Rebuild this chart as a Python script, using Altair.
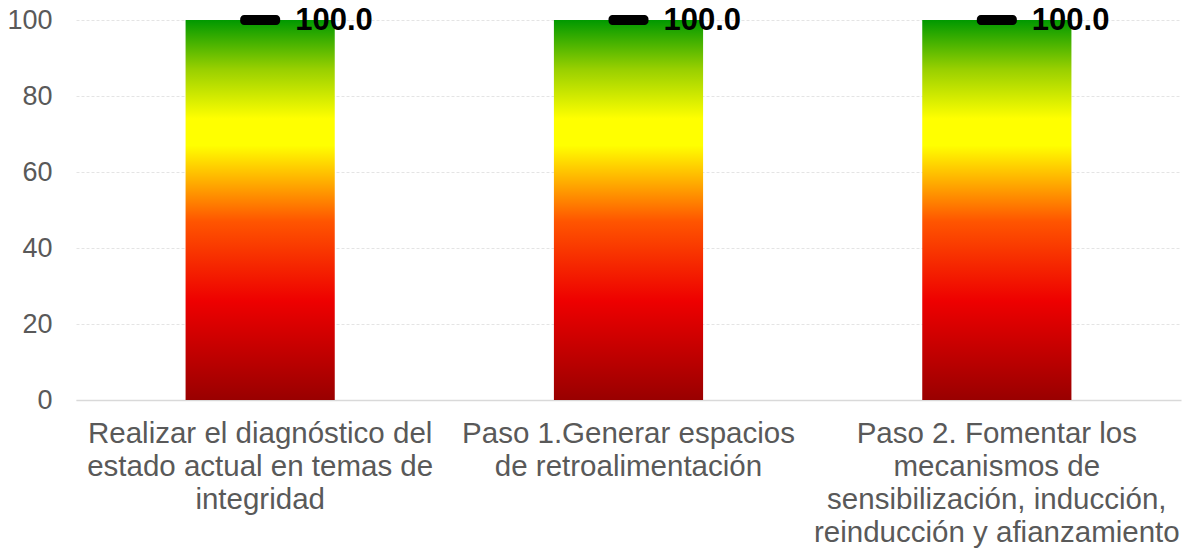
import altair as alt
import pandas as pd

categories = [
    "Realizar el diagnóstico del estado actual en temas de integridad",
    "Paso 1.Generar espacios de retroalimentación",
    "Paso 2. Fomentar los mecanismos de sensibilización, inducción, reinducción y afianzamiento",
]
label_lines = [
    ["Realizar el diagnóstico del", "estado actual en temas de", "integridad"],
    ["Paso 1.Generar espacios", "de retroalimentación"],
    ["Paso 2. Fomentar los", "mecanismos de", "sensibilización, inducción,", "reinducción y afianzamiento"],
]
values = [100.0, 100.0, 100.0]
y_ticks = [0, 20, 40, 60, 80, 100]

df = pd.DataFrame({
    "categoria": categories,
    "etiqueta": ["|".join(l) for l in label_lines],
    "valor": values,
})

FONT = "Liberation Sans"
GRAY = "#595959"

gradient = alt.Gradient(
    gradient="linear",
    stops=[
        alt.GradientStop(color="#990000", offset=0.0),
        alt.GradientStop(color="#EE0000", offset=0.26),
        alt.GradientStop(color="#FF5500", offset=0.47),
        alt.GradientStop(color="#FF9900", offset=0.55),
        alt.GradientStop(color="#FFFF00", offset=0.67),
        alt.GradientStop(color="#FFFF00", offset=0.74),
        alt.GradientStop(color="#99D000", offset=0.87),
        alt.GradientStop(color="#009900", offset=1.0),
    ],
    x1=0, x2=0, y1=1, y2=0,
)

x_enc = alt.X(
    "etiqueta:N", sort=None, title=None,
    scale=alt.Scale(paddingInner=0.595, paddingOuter=0.2975),
    axis=alt.Axis(
        labelAngle=0, labelExpr="split(datum.label, '|')",
        labelFont=FONT, labelFontSize=29.5, labelColor=GRAY,
        labelLineHeight=33.3, labelPadding=19, labelLimit=500,
        ticks=False, domainColor="#d9d9d9", domainWidth=1.5, grid=False,
        labelBaseline="top",
    ),
)
y_enc = alt.Y(
    "valor:Q", title=None,
    scale=alt.Scale(domain=[0, 100], nice=False),
    axis=alt.Axis(
        values=y_ticks, labelFont=FONT, labelFontSize=27, labelColor=GRAY,
        labelPadding=24, ticks=False, domain=False,
        grid=True, gridColor="#e4e4e4", gridDash=[3, 2], gridWidth=1,
    ),
)

base = alt.Chart(df).encode(x=x_enc, y=y_enc)

bars = base.mark_bar(color=gradient)
marker = base.mark_tick(color="black", size=40, thickness=10, cornerRadius=4, opacity=1)
text = base.mark_text(
    align="left", baseline="middle", dx=35, dy=1,
    font=FONT, fontSize=31, fontWeight="bold", color="black",
).encode(text=alt.Text("valor:Q", format=".1f"))

chart = (bars + marker + text).properties(
    width=1105, height=380,
    autosize=alt.AutoSizeParams(type="none"),
    padding={"left": 68, "top": 12, "right": 2, "bottom": 150},
).configure_view(stroke=None)

chart.save("out.html", embed_options={"renderer": "svg", "actions": False})
